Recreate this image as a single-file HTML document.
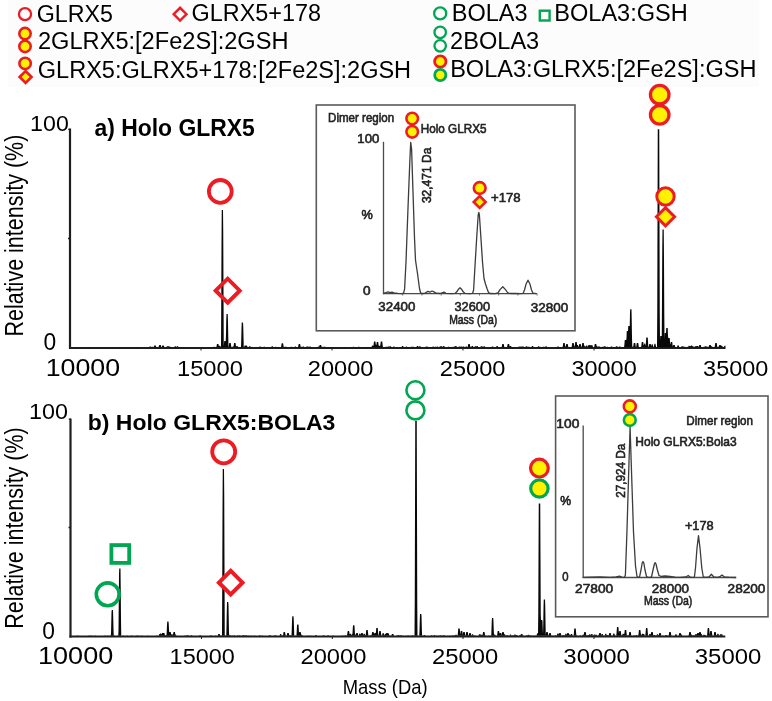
<!DOCTYPE html><html><head><meta charset="utf-8"><style>html,body{margin:0;padding:0;background:#fff;}svg{display:block;}text{font-family:"Liberation Sans",Arial,sans-serif;}</style></head><body>
<svg width="772" height="701" viewBox="0 0 772 701">
<rect width="772" height="701" fill="#fff"/>
<rect x="8" y="0" width="751" height="87" fill="#fcfcfc"/>
<circle cx="25.0" cy="14.1" r="6.05" fill="none" stroke="#ec1c24" stroke-width="2.3"/>
<text x="36.73" y="22.2" font-size="23.5" textLength="76.25" lengthAdjust="spacingAndGlyphs">GLRX5</text>
<path d="M173.70 14.20L180.10 7.80L186.50 14.20L180.10 20.60Z" fill="none" stroke="#ec1c24" stroke-width="2.4" stroke-linejoin="miter"/>
<text x="191.62" y="20.8" font-size="23.5" textLength="129.39" lengthAdjust="spacingAndGlyphs">GLRX5+178</text>
<circle cx="25.0" cy="33.6" r="5.70" fill="#fff200" stroke="#ec1c24" stroke-width="2.6"/>
<circle cx="25.0" cy="46.4" r="5.70" fill="#fff200" stroke="#ec1c24" stroke-width="2.6"/>
<text x="38.01" y="48.9" font-size="23.5" textLength="250.51" lengthAdjust="spacingAndGlyphs">2GLRX5:[2Fe2S]:2GSH</text>
<circle cx="25.1" cy="63.4" r="5.70" fill="#fff200" stroke="#ec1c24" stroke-width="2.6"/>
<path d="M19.64 77.00L25.60 71.04L31.56 77.00L25.60 82.96Z" fill="#fff200" stroke="#ec1c24" stroke-width="2.6" stroke-linejoin="miter"/>
<text x="37.82" y="77.7" font-size="23.5" textLength="373.3" lengthAdjust="spacingAndGlyphs">GLRX5:GLRX5+178:[2Fe2S]:2GSH</text>
<circle cx="440.2" cy="13.4" r="6.05" fill="none" stroke="#00a651" stroke-width="2.3"/>
<text x="451.77" y="21.4" font-size="23.5" textLength="75.76" lengthAdjust="spacingAndGlyphs">BOLA3</text>
<rect x="539.80" y="10.70" width="9.80" height="9.80" fill="none" stroke="#00a651" stroke-width="2.4"/>
<text x="554.27" y="21.3" font-size="23.5" textLength="133.55" lengthAdjust="spacingAndGlyphs">BOLA3:GSH</text>
<circle cx="440.2" cy="32.3" r="5.75" fill="none" stroke="#00a651" stroke-width="2.3"/>
<circle cx="440.2" cy="45.8" r="5.75" fill="none" stroke="#00a651" stroke-width="2.3"/>
<text x="450.11" y="48.9" font-size="23.5" textLength="89.12" lengthAdjust="spacingAndGlyphs">2BOLA3</text>
<circle cx="440.3" cy="61.5" r="5.70" fill="#fff200" stroke="#ec1c24" stroke-width="2.8"/>
<circle cx="440.3" cy="75.0" r="5.60" fill="#fff200" stroke="#00a651" stroke-width="2.8"/>
<text x="450.17" y="76.7" font-size="23.5" textLength="306.35" lengthAdjust="spacingAndGlyphs">BOLA3:GLRX5:[2Fe2S]:GSH</text>
<line x1="70" y1="128.5" x2="70" y2="349" stroke="#1e1e1e" stroke-width="2.2"/>
<line x1="69" y1="348" x2="725.5" y2="348" stroke="#1e1e1e" stroke-width="2.2"/>
<line x1="201" y1="348" x2="201" y2="350.5" stroke="#1e1e1e" stroke-width="1"/>
<line x1="332" y1="348" x2="332" y2="350.5" stroke="#1e1e1e" stroke-width="1"/>
<line x1="463" y1="348" x2="463" y2="350.5" stroke="#1e1e1e" stroke-width="1"/>
<line x1="594" y1="348" x2="594" y2="350.5" stroke="#1e1e1e" stroke-width="1"/>
<line x1="68" y1="238.6" x2="70" y2="238.6" stroke="#1e1e1e" stroke-width="1.5"/>
<line x1="68.2" y1="129.3" x2="70" y2="129.3" stroke="#1e1e1e" stroke-width="1.2"/>
<text x="30.13" y="130.5" font-size="22" textLength="38.67" lengthAdjust="spacingAndGlyphs">100</text>
<text x="43.41" y="350.0" font-size="23" textLength="12.68" lengthAdjust="spacingAndGlyphs">0</text>
<text x="45.66" y="376.3" font-size="24" textLength="74.38" lengthAdjust="spacingAndGlyphs">10000</text>
<text x="176.99" y="376.4" font-size="22.8" textLength="65.93" lengthAdjust="spacingAndGlyphs">15000</text>
<text x="307.81" y="376.4" font-size="22.8" textLength="65.61" lengthAdjust="spacingAndGlyphs">20000</text>
<text x="439.81" y="376.4" font-size="22.8" textLength="65.61" lengthAdjust="spacingAndGlyphs">25000</text>
<text x="571.41" y="376.4" font-size="22.8" textLength="65.31" lengthAdjust="spacingAndGlyphs">30000</text>
<text x="703.11" y="376.4" font-size="22.8" textLength="65.21" lengthAdjust="spacingAndGlyphs">35000</text>
<text x="23.4" y="336.56" font-size="25" textLength="201.9" lengthAdjust="spacingAndGlyphs" transform="rotate(-90 23.4 336.56)">Relative intensity (%)</text>
<text x="94.43" y="135.6" font-size="23" font-weight="bold" textLength="160.41" lengthAdjust="spacingAndGlyphs">a) Holo GLRX5</text>
<polygon points="70.50,347.30 70.50,347.28 70.75,347.28 71.00,347.27 71.25,347.23 71.50,347.19 72.50,347.19 72.75,347.23 73.00,347.27 73.25,347.30 73.50,347.30 73.75,347.29 74.00,347.29 74.25,347.28 74.50,347.28 74.75,347.21 75.00,347.13 75.25,347.09 76.00,347.09 76.25,347.12 76.50,347.20 76.75,347.27 77.00,347.29 78.00,347.29 78.25,347.30 78.50,347.27 78.75,347.24 79.00,347.22 79.75,347.22 80.00,347.23 80.25,347.26 80.50,347.29 80.75,347.30 81.00,347.29 81.25,347.28 81.50,347.27 82.50,347.27 82.75,347.28 83.00,347.29 83.25,347.30 83.50,347.28 83.75,347.26 84.00,347.23 85.00,347.23 85.25,347.26 85.50,347.28 85.75,347.22 86.00,347.17 86.25,347.15 86.75,347.15 87.00,347.11 88.00,347.11 88.25,347.17 88.50,347.10 88.75,347.07 89.50,347.07 89.75,347.12 90.00,347.20 90.25,347.28 90.50,347.29 90.75,347.29 91.00,347.25 91.25,347.20 91.50,347.18 92.25,347.18 92.50,347.20 92.75,347.24 93.00,347.26 94.00,347.26 94.25,347.28 94.50,347.28 94.75,347.25 95.00,347.21 95.25,347.20 96.00,347.20 96.25,347.21 96.50,347.12 96.75,347.04 97.50,347.04 97.75,347.06 98.00,347.15 98.25,347.16 99.00,347.16 99.25,347.21 99.50,347.26 99.75,347.30 100.00,347.27 100.25,347.17 100.50,347.07 100.75,347.02 101.50,347.02 101.75,347.08 102.00,347.15 102.50,347.15 102.75,347.20 103.00,347.26 103.25,347.22 103.50,347.20 104.25,347.20 104.50,347.22 104.75,347.21 105.00,347.13 105.25,347.08 106.00,347.08 106.25,347.11 106.50,347.11 106.75,347.13 107.00,347.20 107.25,347.27 108.00,347.27 108.25,347.28 108.50,347.29 108.75,347.30 109.00,347.29 109.25,347.24 109.50,347.18 109.75,347.15 110.50,347.15 110.75,347.17 111.00,347.22 111.25,347.20 111.50,347.10 111.75,347.01 112.50,347.01 112.75,347.03 113.00,347.13 113.25,347.23 113.50,347.27 114.25,347.27 114.50,347.28 114.75,347.29 115.00,347.30 115.50,347.30 115.75,347.29 116.00,347.25 116.25,347.21 116.50,347.19 117.00,347.19 117.25,347.18 117.50,347.10 117.75,347.07 118.50,347.07 118.75,347.13 119.00,347.21 119.25,347.18 119.50,347.09 119.75,347.06 120.50,347.06 120.75,347.11 121.00,347.20 121.25,347.23 121.50,347.22 122.25,347.22 122.50,347.24 122.75,347.23 123.00,347.21 123.75,347.21 124.00,347.22 124.25,347.25 124.50,347.24 124.75,347.22 125.50,347.22 125.75,347.23 126.00,347.26 126.25,347.28 127.25,347.28 127.50,347.29 127.75,347.30 128.00,347.27 128.25,347.24 128.50,347.22 129.50,347.22 129.75,347.25 130.00,347.25 130.25,347.24 130.50,347.20 130.75,347.19 131.25,347.19 131.50,347.18 132.25,347.18 132.50,347.19 132.75,347.23 133.00,347.27 133.25,347.27 133.50,347.26 134.25,347.26 134.50,347.27 134.75,347.28 135.00,347.30 135.50,347.30 135.75,347.26 136.00,347.16 136.25,347.06 136.50,347.02 137.25,347.02 137.50,347.08 137.75,347.18 138.00,347.19 138.75,347.19 139.00,347.21 139.25,347.25 139.50,347.27 140.25,347.27 140.50,347.28 140.75,347.28 141.00,347.27 141.75,347.27 142.00,347.28 142.25,347.29 142.50,347.30 143.50,347.30 143.75,347.29 144.00,347.28 144.25,347.27 145.25,347.27 145.50,347.28 145.75,347.29 146.00,347.28 146.75,347.28 147.00,347.23 147.25,347.18 147.50,347.15 148.25,347.15 148.50,347.18 148.75,347.24 149.00,347.26 149.25,346.95 149.50,346.63 149.75,346.42 150.50,346.42 150.75,346.52 151.00,346.84 151.25,347.13 151.50,346.95 151.75,346.79 152.50,346.79 152.75,346.81 153.00,346.99 153.25,347.18 153.50,347.25 153.75,347.00 154.00,346.25 154.25,345.50 155.75,345.50 156.00,346.25 156.25,347.00 156.50,347.26 157.00,347.26 157.25,347.28 157.50,347.29 157.75,347.17 158.00,347.00 158.25,346.82 158.50,346.81 158.75,346.81 159.00,345.96 159.25,345.00 160.75,345.00 161.00,345.96 161.25,346.92 161.50,347.21 161.75,347.00 162.00,346.25 162.25,345.50 163.75,345.50 164.00,346.25 164.25,347.00 164.50,347.27 165.00,347.27 165.25,347.28 165.50,347.29 165.75,347.30 166.00,347.30 166.25,347.19 166.50,346.86 166.75,346.53 167.00,346.37 167.75,346.37 168.00,346.54 168.25,346.22 169.25,346.22 169.50,346.61 169.75,346.63 170.25,346.63 170.50,346.75 170.75,346.98 171.50,346.98 171.75,347.10 172.00,347.21 172.25,347.24 172.50,347.24 172.75,347.25 173.00,347.27 173.25,347.29 173.50,347.26 173.75,347.23 174.00,347.20 174.25,347.19 174.50,346.84 174.75,346.49 175.00,346.32 175.75,346.32 176.00,346.50 176.25,346.85 176.50,347.03 176.75,346.68 177.00,346.34 178.00,346.34 178.25,346.68 178.50,347.02 178.75,347.30 179.00,347.27 179.25,347.23 179.50,347.19 180.50,347.19 180.75,347.23 181.00,347.27 181.25,347.30 209.50,347.30 209.75,347.29 210.00,347.16 210.25,347.03 210.50,346.92 211.25,346.92 211.50,346.96 211.75,347.04 212.25,347.04 212.50,347.09 212.75,347.18 213.00,347.28 213.25,347.16 213.50,346.98 213.75,346.80 214.75,346.80 215.00,346.97 215.25,347.15 215.50,347.21 215.75,347.21 216.00,347.23 216.25,347.26 216.50,346.47 216.75,345.10 217.00,344.00 218.25,344.00 218.50,344.28 218.75,345.65 219.00,345.87 219.75,345.87 220.00,346.10 220.25,346.43 220.75,346.43 221.00,346.51 221.25,301.57 221.50,244.40 221.75,210.10 223.00,210.10 223.25,232.97 223.50,290.13 223.75,346.25 224.00,343.62 224.25,341.00 225.75,341.00 226.00,333.42 226.25,319.55 226.50,314.00 227.75,314.00 228.00,322.33 228.25,336.20 228.50,347.08 228.75,346.58 229.00,344.79 229.25,343.00 230.75,343.00 231.00,344.79 231.25,346.58 231.50,347.08 231.75,347.22 232.00,347.18 232.25,346.94 232.50,346.70 232.75,346.62 233.50,346.62 233.75,345.15 234.00,343.36 234.25,343.00 235.50,343.00 235.75,344.43 236.00,346.22 236.25,346.50 236.50,346.13 236.75,345.89 237.50,345.89 237.75,346.15 238.00,346.65 238.25,346.99 238.75,346.99 239.00,347.03 239.25,347.14 239.50,347.09 239.75,346.95 240.00,346.91 240.75,346.91 241.00,347.01 241.25,339.03 241.50,328.70 241.75,322.50 243.00,322.50 243.25,326.63 243.50,336.97 243.75,347.29 244.00,347.18 244.25,346.57 244.50,345.97 244.75,345.60 245.50,345.60 245.75,345.84 246.00,345.53 246.75,345.53 247.00,345.83 247.25,346.46 247.50,346.84 247.75,347.01 248.00,347.18 248.25,347.30 248.50,347.10 248.75,346.75 249.00,346.41 249.25,346.34 250.00,346.34 250.25,346.61 250.50,346.85 251.00,346.85 251.25,346.86 251.50,347.02 251.75,347.18 252.00,347.29 252.50,347.29 252.75,347.28 254.00,347.28 254.25,347.29 254.50,347.29 254.75,347.28 255.00,347.27 256.00,347.27 256.25,347.28 256.50,347.29 256.75,347.30 257.00,347.30 257.25,347.29 258.75,347.29 259.00,347.06 259.25,346.81 259.50,346.60 260.25,346.60 260.50,346.64 260.75,346.66 261.00,346.66 261.25,346.78 261.50,347.00 261.75,347.23 262.00,347.25 262.25,347.16 262.50,347.06 262.75,347.04 263.50,347.04 263.75,346.86 264.00,346.74 264.75,346.74 265.00,346.82 265.25,347.02 265.50,347.19 265.75,347.22 266.00,347.24 267.00,347.24 267.25,347.25 267.50,347.11 267.75,346.98 268.00,346.92 268.75,346.92 269.00,347.00 269.25,347.13 269.50,347.16 269.75,347.16 270.00,347.13 270.75,347.13 271.00,347.14 271.25,347.04 271.50,346.70 271.75,346.36 272.00,346.35 272.75,346.35 273.00,346.68 273.25,347.02 273.50,347.28 273.75,347.28 274.00,347.27 274.50,347.27 274.75,347.25 275.00,347.08 275.25,346.92 275.50,346.85 276.25,346.85 276.50,346.93 276.75,347.10 277.00,347.02 277.25,346.89 278.00,346.89 278.25,346.90 278.50,347.05 278.75,347.19 279.00,347.29 279.25,347.26 279.50,347.16 279.75,347.07 280.00,347.03 280.75,347.03 281.00,347.09 281.25,345.97 281.50,344.30 281.75,343.30 283.00,343.30 283.25,343.97 283.50,345.63 283.75,347.02 284.00,347.14 284.25,346.99 284.50,346.82 285.00,346.82 285.25,346.81 285.50,346.80 286.25,346.80 286.50,346.97 286.75,347.06 287.00,346.96 287.75,346.96 288.00,346.97 288.25,347.10 288.50,347.22 288.75,347.30 289.00,347.30 289.25,347.29 289.50,347.28 289.75,347.27 290.00,347.27 290.25,347.14 290.50,346.93 290.75,346.71 291.00,346.70 291.75,346.70 292.00,346.90 292.25,347.12 292.50,347.30 292.75,347.22 293.00,347.14 293.25,347.07 294.00,347.07 294.25,347.08 294.50,347.00 294.75,346.75 295.00,346.60 295.75,346.60 296.00,346.70 296.25,346.95 296.50,347.07 297.25,347.07 297.50,347.12 297.75,347.20 298.00,347.19 298.25,346.20 298.50,344.82 298.75,344.00 300.00,344.00 300.25,344.55 300.50,345.93 300.75,347.10 301.00,347.05 301.25,346.87 301.50,346.78 302.25,346.78 302.50,346.88 302.75,346.72 303.00,346.57 303.75,346.57 304.00,346.69 304.25,346.95 304.50,347.21 304.75,347.23 305.00,347.23 305.25,347.25 305.50,347.28 305.75,347.29 306.00,347.03 306.25,346.76 306.50,346.56 307.00,346.56 307.25,346.55 308.00,346.55 308.25,346.70 308.50,346.77 309.25,346.77 309.50,346.71 309.75,346.60 310.50,346.60 310.75,346.75 311.00,347.00 311.25,347.01 311.50,346.96 312.25,346.96 312.50,347.04 312.75,347.16 313.00,347.19 313.25,347.21 313.50,347.25 313.75,347.26 314.75,347.26 315.00,347.27 315.25,347.24 315.50,347.18 315.75,347.15 316.50,347.15 316.75,347.17 317.00,347.22 317.50,347.22 317.75,347.08 318.00,346.80 318.25,346.52 318.50,346.51 318.75,346.50 319.00,346.41 319.25,346.41 319.50,345.57 319.75,345.00 321.00,345.00 321.25,345.38 321.50,346.34 321.75,346.92 322.00,347.12 322.25,347.15 322.50,346.99 322.75,346.87 323.50,346.87 323.75,346.90 324.00,346.83 324.25,346.73 325.00,346.73 325.25,346.84 325.50,347.01 325.75,347.01 326.00,347.03 326.25,347.14 326.50,347.24 326.75,347.23 327.00,347.18 327.75,347.18 328.00,347.07 328.25,346.98 329.00,346.98 329.25,347.01 329.50,347.09 329.75,347.02 330.50,347.02 330.75,347.05 331.00,347.15 331.25,347.11 331.50,347.00 332.50,347.00 332.75,347.10 333.00,347.21 333.25,347.29 334.75,347.29 335.00,347.26 335.25,347.17 335.50,347.08 335.75,347.05 336.50,347.05 336.75,347.10 337.00,347.15 338.00,347.15 338.25,347.21 338.50,347.26 338.75,347.30 339.50,347.30 339.75,347.27 340.00,347.20 340.25,347.13 340.50,347.09 341.25,347.09 341.50,347.13 341.75,347.21 342.00,347.25 342.25,347.25 342.50,347.26 342.75,347.28 343.00,347.30 343.75,347.30 344.00,347.15 344.25,347.01 344.50,346.89 345.25,346.89 345.50,346.91 345.75,347.06 346.00,347.19 347.00,347.19 347.25,347.23 347.50,347.27 347.75,347.25 348.00,347.22 348.25,347.21 349.00,347.21 349.25,347.24 349.50,347.25 349.75,347.12 350.00,346.97 350.25,346.88 351.00,346.88 351.25,346.93 351.50,347.08 351.75,347.24 352.00,347.27 352.25,347.28 352.50,347.24 352.75,347.07 353.00,346.90 353.25,346.83 354.00,346.83 354.25,346.93 354.50,347.10 354.75,347.26 355.00,347.28 355.25,347.23 355.50,347.16 355.75,347.11 356.50,347.11 356.75,347.12 357.00,347.19 357.25,347.26 357.50,347.26 357.75,347.18 358.00,347.02 358.25,346.86 358.50,346.85 359.25,346.85 359.50,347.00 359.75,347.16 360.00,347.20 360.75,347.20 361.00,347.22 361.25,347.25 361.50,347.17 361.75,347.07 362.00,347.02 362.75,347.02 363.00,347.07 363.25,347.17 363.50,347.24 364.25,347.24 364.50,347.16 364.75,347.07 365.00,347.05 365.25,347.05 365.50,347.03 365.75,346.88 366.50,346.88 366.75,346.89 367.00,347.04 367.25,347.11 367.75,347.11 368.00,347.10 368.75,347.10 369.00,347.16 369.25,347.20 369.50,347.10 369.75,347.01 370.50,347.01 370.75,347.02 371.00,347.13 371.25,347.09 371.50,346.86 371.75,346.42 372.00,345.75 372.25,345.42 373.00,345.42 373.25,345.76 373.50,345.82 373.75,343.37 374.00,341.40 375.25,341.40 375.50,341.89 375.75,344.35 376.00,345.03 376.25,345.03 376.50,344.21 376.75,342.00 378.25,342.00 378.50,344.21 378.75,345.77 379.00,345.76 379.75,345.76 380.00,346.15 380.25,345.45 380.50,343.86 380.75,341.40 382.25,341.40 382.50,343.86 382.75,346.32 383.00,346.75 383.25,346.95 383.50,347.16 383.75,347.25 384.75,347.25 385.00,347.15 385.25,346.92 385.50,346.70 385.75,346.66 386.50,346.66 386.75,346.75 387.50,346.75 387.75,346.77 388.00,346.86 388.25,346.59 388.50,346.55 389.25,346.55 389.50,346.67 389.75,346.30 390.00,346.25 390.75,346.25 391.00,346.57 391.25,346.95 391.50,347.12 391.75,347.12 392.00,347.13 392.25,347.20 392.50,347.23 392.75,347.22 393.00,346.94 393.25,346.65 393.50,346.50 394.25,346.50 394.50,346.64 394.75,346.92 395.00,347.21 395.25,347.25 395.50,347.25 395.75,347.17 396.00,347.10 396.25,347.09 397.00,347.09 397.25,347.15 397.50,347.23 397.75,347.28 398.00,347.28 398.25,347.29 398.50,347.29 398.75,347.30 399.75,347.30 400.00,347.25 400.25,347.17 400.50,347.10 400.75,347.08 401.50,347.08 401.75,346.75 402.00,346.31 402.25,346.09 403.00,346.09 403.25,346.30 403.50,346.73 403.75,347.01 404.00,347.01 404.25,347.04 404.50,347.15 404.75,347.14 405.25,347.14 405.50,347.06 405.75,346.81 406.00,346.61 406.75,346.61 407.00,346.66 407.25,346.90 407.50,347.15 407.75,347.28 408.00,347.18 408.25,347.08 408.50,347.02 409.25,347.02 409.50,347.06 409.75,347.16 410.00,347.22 410.25,347.24 410.50,347.10 410.75,346.92 411.00,346.79 411.75,346.79 412.00,346.84 412.25,347.02 412.50,346.82 412.75,346.69 413.50,346.69 413.75,346.78 414.00,347.00 414.25,347.22 414.50,347.26 415.25,347.26 415.50,347.27 415.75,347.19 416.00,346.99 416.25,346.79 416.50,346.74 416.75,346.67 417.00,346.23 417.25,346.07 418.00,346.07 418.25,346.35 418.50,346.79 418.75,347.16 419.00,346.76 419.25,346.37 419.50,346.21 420.25,346.21 420.50,346.43 420.75,346.82 421.00,347.18 421.25,347.21 421.50,347.26 421.75,347.29 423.50,347.29 423.75,347.28 424.50,347.28 424.75,347.29 425.00,347.14 425.25,346.92 425.50,346.71 425.75,346.70 426.25,346.70 426.50,346.59 427.25,346.59 427.50,346.60 427.75,346.85 428.00,347.11 428.25,347.05 428.50,346.91 428.75,346.90 429.50,346.90 429.75,347.04 430.00,347.08 430.25,347.10 430.50,347.18 430.75,347.11 431.00,347.00 432.00,347.00 432.25,346.88 432.50,346.63 432.75,346.62 433.50,346.62 433.75,346.86 434.00,347.10 434.25,347.11 434.50,346.92 434.75,346.68 435.00,346.64 435.75,346.64 436.00,346.84 436.25,347.07 436.50,346.99 436.75,346.73 437.00,346.55 437.75,346.55 438.00,346.64 438.25,346.91 438.50,347.18 438.75,347.23 439.00,347.23 439.25,347.15 439.50,346.80 439.75,346.44 440.00,346.30 440.75,346.30 441.00,346.49 441.25,346.25 442.00,346.25 442.25,346.39 442.50,346.76 442.75,346.98 443.00,346.56 443.25,346.14 443.50,346.11 444.25,346.11 444.50,346.51 444.75,346.94 445.00,347.28 445.75,347.28 446.00,347.27 446.25,347.24 446.50,347.22 447.25,347.22 447.50,347.23 447.75,347.04 448.00,346.85 448.25,346.76 449.00,346.76 449.25,346.86 449.50,347.06 449.75,347.14 450.00,346.99 450.25,346.89 451.00,346.89 451.25,346.93 451.50,347.08 451.75,347.22 452.00,347.05 452.25,346.88 452.50,346.83 453.25,346.83 453.50,346.94 453.75,347.07 454.00,346.75 454.25,346.44 454.50,346.41 455.00,346.41 455.25,346.31 455.50,346.09 456.25,346.09 456.50,346.29 456.75,346.73 457.00,347.16 457.25,347.29 458.00,347.29 458.25,347.25 458.50,346.93 458.75,346.61 459.00,346.41 459.75,346.41 460.00,346.52 460.25,346.84 460.50,346.88 460.75,346.61 461.00,346.55 461.75,346.55 462.00,346.75 462.25,346.83 462.50,346.83 462.75,346.70 463.00,346.39 463.75,346.39 464.00,346.41 464.25,346.73 464.50,347.05 464.75,347.24 465.00,347.24 465.25,347.10 465.50,346.86 465.75,346.61 466.75,346.61 467.00,346.86 467.25,346.99 467.50,346.99 467.75,346.75 468.00,345.38 468.25,344.00 469.75,344.00 470.00,345.38 470.25,346.75 470.50,346.82 471.25,346.82 471.50,346.76 471.75,346.30 472.00,346.01 472.75,346.01 473.00,346.18 473.25,346.64 473.50,347.10 473.75,347.29 474.00,347.29 474.25,347.21 474.50,346.81 474.75,346.41 475.00,346.17 475.75,346.17 476.00,346.34 476.25,346.75 476.50,346.31 476.75,346.03 477.50,346.03 477.75,346.21 478.00,346.66 478.25,347.00 478.50,346.93 479.25,346.93 479.50,346.98 479.75,347.12 480.00,347.25 480.25,347.18 480.50,346.80 480.75,346.42 481.00,346.24 481.75,346.24 482.00,346.43 482.25,346.52 482.75,346.52 483.00,346.73 483.25,346.90 483.50,346.51 483.75,346.20 484.50,346.20 484.75,346.28 485.00,346.68 485.25,347.07 485.50,347.26 486.50,347.26 486.75,347.28 487.00,347.28 487.25,347.24 487.50,347.20 487.75,347.19 488.50,347.19 488.75,347.21 489.00,347.26 489.25,347.30 489.50,347.30 489.75,347.25 490.00,347.17 490.25,347.08 490.50,347.06 491.25,347.06 491.50,347.10 491.75,346.84 492.00,346.58 492.25,346.57 493.00,346.57 493.25,346.83 493.50,347.09 493.75,347.18 494.00,347.18 494.25,347.19 494.50,347.23 494.75,347.27 495.75,347.27 496.00,347.08 496.25,346.64 496.50,346.20 496.75,346.06 497.50,346.06 497.75,346.36 498.00,346.81 498.25,347.12 498.50,347.12 498.75,347.15 499.00,347.15 499.25,347.05 499.50,347.02 500.25,347.02 500.50,347.10 500.75,347.20 501.00,347.18 501.25,347.13 501.50,347.13 501.75,346.75 502.00,345.38 502.25,344.00 503.75,344.00 504.00,345.38 504.25,346.75 504.50,347.19 504.75,347.20 505.00,347.24 505.25,347.28 505.50,347.30 506.00,347.30 506.25,347.29 506.50,347.15 506.75,347.02 507.00,346.93 507.25,346.20 507.50,344.82 507.75,344.00 509.00,344.00 509.25,344.55 509.50,345.93 509.75,346.61 510.00,346.16 510.25,346.05 511.00,346.05 511.25,346.39 511.50,346.84 511.75,347.28 512.00,347.27 512.25,347.18 512.50,347.09 512.75,347.06 513.00,347.06 513.25,347.00 513.50,346.91 514.25,346.91 514.50,346.96 514.75,347.10 515.00,347.24 515.25,347.24 515.50,347.22 516.00,347.22 516.25,347.21 517.00,347.21 517.25,347.23 517.50,347.26 517.75,347.08 518.00,346.90 518.25,346.79 519.00,346.79 519.25,346.86 519.50,346.62 519.75,346.45 520.50,346.45 520.75,346.59 521.00,346.89 521.25,346.62 521.50,346.55 522.25,346.55 522.50,346.51 522.75,346.40 523.50,346.40 523.75,346.61 524.00,346.93 524.25,347.25 524.50,347.27 524.75,347.29 525.00,347.30 525.25,347.17 525.50,346.80 525.75,346.42 526.00,346.25 526.75,346.25 527.00,346.46 527.25,346.81 527.50,346.72 528.25,346.72 528.50,346.84 528.75,346.83 529.50,346.83 529.75,346.89 530.00,347.06 530.25,347.23 530.50,347.26 530.75,347.26 531.00,347.27 531.25,347.28 531.50,346.91 531.75,346.46 532.00,346.02 532.75,346.02 533.00,346.04 533.25,346.50 533.50,346.96 533.75,347.14 534.25,347.14 534.50,347.18 534.75,347.24 535.00,347.27 535.25,347.17 535.50,347.08 535.75,347.03 536.50,347.03 536.75,347.09 537.00,347.17 537.25,347.17 537.50,347.09 537.75,346.76 538.00,346.42 538.25,346.36 539.00,346.36 539.25,346.63 539.50,346.81 540.00,346.81 540.25,346.86 540.50,347.03 540.75,347.17 541.00,347.03 541.25,346.91 542.00,346.91 542.25,346.93 542.50,347.04 542.75,346.80 543.00,346.65 543.75,346.65 544.00,346.72 544.25,346.72 544.50,346.74 544.75,346.94 545.00,347.13 545.25,346.75 545.50,346.38 545.75,346.26 546.50,346.26 546.75,346.51 547.00,346.88 547.25,347.25 547.75,347.25 548.00,347.18 548.25,347.12 548.50,347.11 549.25,347.11 549.50,347.17 549.75,347.20 550.50,347.20 550.75,347.21 551.00,347.19 551.25,347.17 552.00,347.17 552.25,347.20 552.50,347.24 552.75,347.28 553.25,347.28 553.50,347.29 556.75,347.29 557.00,347.10 557.25,346.77 557.50,346.44 557.75,346.39 558.50,346.39 558.75,346.66 559.00,346.98 559.25,347.30 559.50,347.29 560.75,347.29 561.00,347.26 561.25,347.19 561.50,347.13 561.75,347.12 562.50,347.12 562.75,346.58 563.00,344.79 563.25,343.00 564.75,343.00 565.00,344.79 565.25,346.58 565.50,346.67 565.75,346.27 566.00,345.38 566.25,344.00 567.75,344.00 568.00,345.38 568.25,346.75 568.50,347.21 569.25,347.21 569.50,347.23 569.75,347.27 570.00,347.30 570.25,347.29 570.50,347.20 570.75,347.07 571.00,346.94 571.25,346.93 571.50,346.93 571.75,346.58 572.00,344.79 572.25,343.00 573.75,343.00 574.00,344.79 574.25,346.58 574.50,346.24 574.75,345.49 575.00,344.21 575.25,342.00 576.75,342.00 577.00,344.21 577.25,345.09 577.75,345.09 578.00,345.23 578.25,346.02 578.50,346.80 578.75,346.75 579.00,345.38 579.25,344.00 580.75,344.00 581.00,345.38 581.25,346.71 581.50,346.71 581.75,346.58 582.00,344.79 582.25,343.00 583.75,343.00 584.00,344.79 584.25,345.77 584.50,345.77 584.75,346.27 585.00,346.58 585.50,346.58 585.75,346.56 586.00,345.94 586.25,345.57 587.00,345.57 587.25,345.81 587.50,346.43 587.75,347.05 588.00,346.35 588.25,345.57 588.50,345.12 589.25,345.12 589.50,345.19 589.75,344.98 590.50,344.98 590.75,345.59 591.00,346.12 591.25,345.27 591.50,344.91 592.25,344.91 592.50,345.40 592.75,346.26 593.00,347.11 593.25,347.27 593.75,347.27 594.00,347.28 594.25,346.75 594.50,345.38 594.75,344.00 596.25,344.00 596.50,345.38 596.75,345.88 597.00,346.44 597.25,346.61 597.75,346.61 598.00,346.57 598.75,346.57 599.00,346.40 599.75,346.40 600.00,346.48 600.25,346.80 600.50,347.13 600.75,347.13 601.00,347.18 601.25,347.23 601.50,347.08 601.75,346.92 602.00,346.87 602.75,346.87 603.00,346.97 603.25,346.89 603.50,346.57 603.75,346.41 604.00,346.41 604.25,346.32 604.50,346.16 605.25,346.16 605.50,346.40 605.75,346.81 606.00,347.00 606.50,347.00 606.75,346.86 607.00,346.80 607.75,346.80 608.00,346.92 608.25,347.10 608.50,347.23 608.75,347.14 609.00,347.05 609.75,347.05 610.00,347.06 610.25,347.15 610.50,347.08 610.75,346.75 611.00,346.42 611.25,346.38 612.00,346.38 612.25,346.67 612.50,347.00 612.75,347.07 613.00,347.07 613.25,347.09 613.50,347.08 614.25,347.08 614.50,347.09 614.75,347.16 615.00,347.24 615.25,347.30 615.50,347.25 615.75,346.84 616.00,346.42 616.25,346.14 617.00,346.14 617.25,346.28 617.50,346.69 617.75,347.02 618.00,346.94 618.50,346.94 618.75,346.93 619.00,346.60 619.25,346.40 620.00,346.40 620.25,346.51 620.50,346.84 620.75,347.16 621.00,347.19 621.25,347.19 621.50,347.22 621.75,347.16 622.00,347.13 622.75,347.13 623.00,347.03 623.25,346.89 624.00,346.89 624.25,346.08 624.50,343.04 624.75,340.00 626.25,340.00 626.50,337.79 626.75,331.00 628.00,331.00 628.25,326.00 629.75,326.00 630.00,312.37 630.25,309.20 631.50,309.20 631.75,321.90 632.00,337.78 632.25,345.85 632.50,346.52 632.75,347.18 633.00,347.00 633.25,346.58 633.50,344.79 633.75,343.00 635.25,343.00 635.50,344.79 635.75,346.58 636.00,347.00 636.25,346.58 636.50,344.79 636.75,343.00 638.25,343.00 638.50,344.79 638.75,346.58 639.00,347.09 639.25,347.25 639.50,347.20 639.75,347.17 640.50,347.17 640.75,347.00 641.00,346.63 641.25,346.25 641.50,344.21 641.75,342.00 643.25,342.00 643.50,344.21 643.75,345.56 644.00,344.75 644.25,343.47 645.00,343.47 645.25,343.55 645.50,344.92 645.75,345.67 646.00,341.58 646.25,337.50 647.75,337.50 648.00,341.58 648.25,345.67 648.50,347.09 648.75,346.75 649.00,345.38 649.25,344.00 650.75,344.00 651.00,345.38 651.25,346.23 651.50,345.11 651.75,344.17 652.50,344.17 652.75,344.35 653.00,345.47 653.25,346.59 653.50,347.27 653.75,347.27 654.00,346.05 654.25,344.80 654.50,343.80 655.25,343.80 655.50,344.05 655.75,345.30 656.00,346.55 656.25,347.27 656.75,347.27 657.00,346.49 657.25,310.97 657.50,220.13 657.75,129.30 659.25,129.30 659.50,220.13 659.75,310.97 660.00,340.71 660.25,336.00 661.75,336.00 662.00,298.18 662.25,249.05 662.50,229.40 663.75,229.40 664.00,258.87 664.25,308.00 664.50,338.96 664.75,333.00 666.00,333.00 666.25,328.00 667.75,328.00 668.00,336.04 668.25,338.00 669.75,338.00 670.00,341.88 670.25,344.59 670.50,343.96 670.75,342.00 672.25,342.00 672.50,344.21 672.75,346.42 673.00,345.96 673.25,345.00 674.75,345.00 675.00,345.96 675.25,346.92 675.50,347.29 675.75,347.26 676.00,347.22 676.25,347.17 676.75,347.17 677.00,347.02 677.25,346.33 677.50,345.65 677.75,345.37 678.50,345.37 678.75,345.79 679.00,346.48 679.25,347.11 679.75,347.11 680.00,347.16 680.25,347.19 680.50,347.19 680.75,347.16 681.00,346.87 681.25,346.58 681.50,346.49 682.00,346.49 682.25,346.34 682.50,346.28 683.25,346.28 683.50,346.60 683.75,346.94 684.00,346.71 684.25,346.66 685.00,346.66 685.25,346.83 685.50,347.06 685.75,347.29 686.50,347.29 686.75,347.21 687.00,347.06 687.25,346.91 687.50,346.87 688.00,346.87 688.25,346.75 688.50,346.23 688.75,345.85 689.50,345.85 689.75,345.98 690.00,346.46 690.25,346.10 690.75,346.10 691.00,345.65 691.25,345.52 692.00,345.52 692.25,346.02 692.50,346.37 693.00,346.37 693.25,346.59 693.50,346.76 693.75,346.69 694.50,346.69 694.75,346.83 695.00,346.90 695.25,346.44 695.50,346.00 696.25,346.00 696.50,346.02 696.75,346.43 697.00,345.96 697.75,345.96 698.00,345.97 698.25,346.45 698.50,346.93 698.75,346.79 699.00,345.96 699.25,345.00 700.75,345.00 701.00,345.96 701.25,346.92 701.50,347.18 701.75,347.14 702.50,347.14 702.75,347.15 703.00,347.21 703.25,347.09 703.50,346.90 703.75,346.77 704.25,346.77 704.50,346.74 704.75,346.38 705.00,346.29 705.75,346.29 706.00,346.57 706.25,346.49 706.50,346.47 707.25,346.47 707.50,346.75 707.75,346.89 708.25,346.89 708.50,346.66 708.75,346.42 709.00,345.96 709.25,345.00 710.75,345.00 711.00,345.96 711.25,346.35 712.00,346.35 712.25,346.68 712.50,347.02 712.75,347.23 713.50,347.23 713.75,347.24 714.00,347.27 714.25,347.28 714.50,347.28 714.75,346.58 715.00,344.79 715.25,343.00 716.75,343.00 717.00,344.79 717.25,346.58 717.50,347.28 718.00,347.28 718.25,347.19 718.50,346.70 718.75,346.22 719.00,345.94 719.25,345.00 720.75,345.00 721.00,345.96 721.25,345.70 722.00,345.70 722.25,345.81 722.50,346.38 722.75,346.95 723.00,347.17 723.25,347.02 723.50,346.89 723.75,346.89 724.00,346.79 724.25,346.19 724.50,345.63 725.25,345.63 725.50,345.67 725.50,347.30" fill="#080808"/>
<circle cx="220.3" cy="191.4" r="11.40" fill="none" stroke="#ec1c24" stroke-width="3.8"/>
<path d="M215.66 290.70L227.70 278.66L239.74 290.70L227.70 302.74Z" fill="none" stroke="#ec1c24" stroke-width="3.9" stroke-linejoin="miter"/>
<circle cx="659.7" cy="94.7" r="9.25" fill="#fff200" stroke="#ec1c24" stroke-width="3.3"/>
<circle cx="659.7" cy="114.8" r="9.25" fill="#fff200" stroke="#ec1c24" stroke-width="3.3"/>
<circle cx="665.5" cy="196.5" r="8.70" fill="#fff200" stroke="#ec1c24" stroke-width="3"/>
<path d="M656.42 216.80L665.50 207.72L674.58 216.80L665.50 225.88Z" fill="#fff200" stroke="#ec1c24" stroke-width="3" stroke-linejoin="miter"/>
<rect x="316.3" y="105" width="258.7" height="225.8" fill="#fff" stroke="#5a5a5a" stroke-width="1.6"/>
<line x1="383.5" y1="141.8" x2="383.5" y2="294.2" stroke="#4a4a4a" stroke-width="1.3"/>
<line x1="382.9" y1="293.6" x2="536.8" y2="293.6" stroke="#4a4a4a" stroke-width="1.3"/>
<line x1="402.7" y1="293.6" x2="402.7" y2="295.5" stroke="#4a4a4a" stroke-width="0.8"/>
<line x1="421.9" y1="293.6" x2="421.9" y2="295.5" stroke="#4a4a4a" stroke-width="0.8"/>
<line x1="441.1" y1="293.6" x2="441.1" y2="295.5" stroke="#4a4a4a" stroke-width="0.8"/>
<line x1="460.3" y1="293.6" x2="460.3" y2="295.5" stroke="#4a4a4a" stroke-width="0.8"/>
<line x1="479.5" y1="293.6" x2="479.5" y2="295.5" stroke="#4a4a4a" stroke-width="0.8"/>
<line x1="498.7" y1="293.6" x2="498.7" y2="295.5" stroke="#4a4a4a" stroke-width="0.8"/>
<line x1="517.9" y1="293.6" x2="517.9" y2="295.5" stroke="#4a4a4a" stroke-width="0.8"/>
<line x1="537.1" y1="293.6" x2="537.1" y2="295.5" stroke="#4a4a4a" stroke-width="0.8"/>
<polyline points="384,293.2 386,292.5 388,291.9 390,292.6 392,292.2 394,292.8 398,293.4 402,293.6 403.6,293.2 404.6,289 406,262 408,208 409.8,162 410.7,142.3 411.6,149 413,192 414.5,238 415.5,260 416.5,267 417.5,273.5 418.5,281 419.5,288.5 420.5,292.5 421.5,293.4 424,293.5 426,292.6 428,291.3 430,292.2 432,291 434,291.9 436,293.2 440,293.5 442,292.8 444,292.1 446,293.3 452,293.6 455,293.4 457,291.6 458.5,289.2 460,287.8 461.5,289.2 463,291.6 465,293.4 470,293.6 472.6,293.3 473.6,290 475,266 476.8,236 478.2,215 478.8,212.4 479.4,215 480.8,236 482.5,262 484,278.5 485.5,284 487,288.5 488.5,292.4 490,293.5 495,293.6 498,292.8 500,289.6 502.8,286.8 505.5,289.6 507.5,292.5 509,293.3 512,293.5 516,293.3 520,293.6 523,293.4 524.5,290 526,284.2 528,280.2 530,284.2 531.5,290 533,293.2 536.5,293.6" fill="none" stroke="#3c3c3c" stroke-width="1.3" stroke-linejoin="round"/>
<text x="328.05" y="122.2" font-size="12.5" textLength="66.1" lengthAdjust="spacingAndGlyphs" fill="#222" stroke="#222" stroke-width="0.6">Dimer region</text>
<text x="357.39" y="143.1" font-size="13" textLength="22.02" lengthAdjust="spacingAndGlyphs" fill="#222" stroke="#222" stroke-width="0.6">100</text>
<text x="361.45" y="219.2" font-size="12.5" textLength="11.31" lengthAdjust="spacingAndGlyphs" fill="#222" stroke="#222" stroke-width="0.6">%</text>
<text x="362.97" y="295.2" font-size="12.5" textLength="7.56" lengthAdjust="spacingAndGlyphs" fill="#222" stroke="#222" stroke-width="0.6">0</text>
<text x="378.39" y="310.6" font-size="13" textLength="36.92" lengthAdjust="spacingAndGlyphs" fill="#222" stroke="#222" stroke-width="0.6">32400</text>
<text x="454.51" y="310.6" font-size="13" textLength="35.59" lengthAdjust="spacingAndGlyphs" fill="#222" stroke="#222" stroke-width="0.6">32600</text>
<text x="530.89" y="311.5" font-size="13" textLength="37.44" lengthAdjust="spacingAndGlyphs" fill="#222" stroke="#222" stroke-width="0.6">32800</text>
<text x="449.14" y="324" font-size="12.5" textLength="48.1" lengthAdjust="spacingAndGlyphs" fill="#222" stroke="#222" stroke-width="0.6">Mass (Da)</text>
<text x="420.84" y="132.7" font-size="12.5" textLength="65.65" lengthAdjust="spacingAndGlyphs" fill="#222" stroke="#222" stroke-width="0.6">Holo GLRX5</text>
<text x="431" y="203.06" font-size="12.5" textLength="55.36" lengthAdjust="spacingAndGlyphs" transform="rotate(-90 431 203.06)" fill="#222" stroke="#222" stroke-width="0.6">32,471 Da</text>
<text x="490.96" y="201.6" font-size="13.7" textLength="29.72" lengthAdjust="spacingAndGlyphs" fill="#222" stroke="#222" stroke-width="0.6">+178</text>
<circle cx="412.2" cy="118.5" r="5.80" fill="#fff200" stroke="#ec1c24" stroke-width="2.6"/>
<circle cx="412.2" cy="131.8" r="5.80" fill="#fff200" stroke="#ec1c24" stroke-width="2.6"/>
<circle cx="479.7" cy="188.0" r="5.90" fill="#fff200" stroke="#ec1c24" stroke-width="2.6"/>
<path d="M473.74 202.00L479.70 196.04L485.66 202.00L479.70 207.96Z" fill="#fff200" stroke="#ec1c24" stroke-width="2.6" stroke-linejoin="miter"/>
<line x1="70.5" y1="418.5" x2="70.5" y2="637.6" stroke="#1e1e1e" stroke-width="2.2"/>
<line x1="69.5" y1="636.5" x2="725.3" y2="636.5" stroke="#1e1e1e" stroke-width="2.2"/>
<line x1="201.5" y1="636.5" x2="201.5" y2="639" stroke="#1e1e1e" stroke-width="1"/>
<line x1="332.3" y1="636.5" x2="332.3" y2="639" stroke="#1e1e1e" stroke-width="1"/>
<line x1="463" y1="636.5" x2="463" y2="639" stroke="#1e1e1e" stroke-width="1"/>
<line x1="594" y1="636.5" x2="594" y2="639" stroke="#1e1e1e" stroke-width="1"/>
<line x1="68.5" y1="527.5" x2="70.5" y2="527.5" stroke="#1e1e1e" stroke-width="1.5"/>
<line x1="68.7" y1="419.2" x2="70.5" y2="419.2" stroke="#1e1e1e" stroke-width="1.2"/>
<text x="28.92" y="419.1" font-size="22" textLength="38.99" lengthAdjust="spacingAndGlyphs">100</text>
<text x="42.31" y="639.2" font-size="23" textLength="12.68" lengthAdjust="spacingAndGlyphs">0</text>
<text x="38.04" y="663.6" font-size="24" textLength="75.22" lengthAdjust="spacingAndGlyphs">10000</text>
<text x="169.61" y="663.6" font-size="22.8" textLength="65.2" lengthAdjust="spacingAndGlyphs">15000</text>
<text x="300.51" y="663.6" font-size="22.8" textLength="65.92" lengthAdjust="spacingAndGlyphs">20000</text>
<text x="432.0" y="663.6" font-size="22.8" textLength="66.12" lengthAdjust="spacingAndGlyphs">25000</text>
<text x="563.39" y="663.6" font-size="22.8" textLength="66.55" lengthAdjust="spacingAndGlyphs">30000</text>
<text x="694.79" y="663.6" font-size="22.8" textLength="66.65" lengthAdjust="spacingAndGlyphs">35000</text>
<text x="342.69" y="694.4" font-size="21" textLength="84.85" lengthAdjust="spacingAndGlyphs">Mass (Da)</text>
<text x="22.7" y="628.66" font-size="25" textLength="201.29" lengthAdjust="spacingAndGlyphs" transform="rotate(-90 22.7 628.66)">Relative intensity (%)</text>
<text x="87.79" y="429.7" font-size="22.8" font-weight="bold" textLength="247.54" lengthAdjust="spacingAndGlyphs">b) Holo GLRX5:BOLA3</text>
<polygon points="71.00,635.80 71.00,635.80 74.50,635.80 74.75,635.75 75.00,635.70 75.25,635.64 76.00,635.64 76.25,635.65 76.50,635.70 76.75,635.59 77.00,635.46 77.25,635.44 78.00,635.44 78.25,635.55 78.50,635.68 78.75,635.80 80.25,635.80 80.50,635.77 80.75,635.71 81.00,635.65 81.25,635.63 82.00,635.63 82.25,635.68 82.50,635.71 82.75,635.68 83.00,635.67 83.75,635.67 84.00,635.70 84.25,635.75 84.50,635.79 84.75,635.78 85.00,635.77 86.00,635.77 86.25,635.78 86.50,635.77 86.75,635.72 87.00,635.66 87.25,635.65 87.75,635.65 88.00,635.56 88.25,635.50 89.00,635.50 89.25,635.54 89.50,635.65 89.75,635.57 90.00,635.43 90.25,635.41 91.00,635.41 91.25,635.43 91.75,635.43 92.00,635.44 92.25,635.57 92.50,635.70 92.75,635.79 93.00,635.78 94.00,635.78 94.25,635.67 94.50,635.54 94.75,635.43 95.50,635.43 95.75,635.45 96.00,635.58 96.25,635.72 96.50,635.76 96.75,635.78 97.00,635.80 99.25,635.80 99.50,635.79 99.75,635.78 100.00,635.76 102.00,635.76 102.25,635.77 102.50,635.78 102.75,635.79 103.00,635.80 103.50,635.80 103.75,635.74 104.00,635.66 104.25,635.58 104.50,635.58 104.75,635.57 105.00,635.55 105.75,635.55 106.00,635.63 106.25,635.71 106.50,635.80 106.75,635.76 107.00,635.63 107.25,635.50 107.50,635.44 108.25,635.44 108.50,635.50 108.75,635.63 109.00,635.76 109.25,635.77 109.50,635.64 109.75,635.52 110.00,635.45 110.75,635.45 111.00,633.65 111.25,622.90 111.50,612.15 111.75,610.00 113.00,610.00 113.25,618.60 113.50,629.35 113.75,635.57 114.00,635.50 114.75,635.50 115.00,635.55 115.25,635.65 115.50,635.76 115.75,635.80 117.00,635.80 117.25,635.71 117.50,635.59 117.75,635.47 118.00,635.46 118.25,635.46 118.50,630.19 118.75,602.15 119.00,574.11 119.25,568.50 120.50,568.50 120.75,590.93 121.00,618.98 121.25,635.78 121.50,635.79 122.00,635.79 122.25,635.76 122.50,635.69 122.75,635.62 123.00,635.61 123.75,635.61 124.00,635.66 124.25,635.73 124.50,635.76 124.75,635.73 125.50,635.73 125.75,635.74 126.00,635.74 126.25,635.64 126.50,635.55 126.75,635.53 127.50,635.53 127.75,635.61 128.00,635.70 128.25,635.80 128.50,635.80 128.75,635.79 129.00,635.76 129.25,635.72 129.50,635.70 130.25,635.70 130.50,635.63 130.75,635.59 131.25,635.59 131.50,635.55 132.25,635.55 132.50,635.58 132.75,635.67 133.00,635.76 133.25,635.80 133.50,635.79 134.25,635.79 134.50,635.78 134.75,635.75 135.00,635.72 135.75,635.72 136.00,635.61 136.25,635.47 136.50,635.42 137.25,635.42 137.50,635.50 137.75,635.62 138.00,635.59 138.75,635.59 139.00,635.63 139.25,635.71 139.50,635.73 139.75,635.73 140.00,635.75 140.25,635.78 140.50,635.69 140.75,635.55 141.00,635.41 142.00,635.41 142.25,635.54 142.50,635.68 142.75,635.70 143.00,635.70 143.25,635.73 143.50,635.77 144.50,635.77 144.75,635.78 145.00,635.78 145.25,635.76 145.50,635.75 146.50,635.75 146.75,635.70 147.00,635.63 147.25,635.61 148.00,635.61 148.25,635.66 148.50,635.73 148.75,635.76 149.00,635.75 149.75,635.75 150.00,635.73 150.25,635.71 151.25,635.71 151.50,635.74 151.75,635.78 152.00,635.77 152.25,635.77 152.50,635.72 152.75,635.67 153.75,635.67 154.00,635.70 154.25,635.75 154.50,635.79 154.75,635.78 155.00,635.78 155.25,635.77 155.75,635.77 156.00,635.70 156.25,635.61 156.50,635.53 157.25,635.53 157.50,635.55 157.75,635.65 158.00,635.75 158.50,635.75 158.75,635.50 159.00,634.75 159.25,634.00 160.00,634.00 160.25,633.53 161.00,633.53 161.25,633.73 161.50,634.54 161.75,634.01 162.00,633.06 162.75,633.06 163.00,633.00 164.25,633.00 164.50,633.23 164.75,634.40 165.00,635.57 165.25,635.49 165.50,635.25 165.75,635.12 166.25,635.12 166.50,634.96 166.75,631.03 167.00,625.08 167.25,621.50 168.50,621.50 168.75,623.88 169.00,629.84 169.25,632.00 170.75,632.00 171.00,633.58 171.25,634.63 171.50,634.31 171.75,634.24 172.50,634.24 172.75,634.74 173.00,634.85 173.25,633.27 173.50,632.00 174.75,632.00 175.00,632.32 175.25,633.90 175.50,634.39 175.75,634.87 176.00,635.13 176.25,635.23 176.50,635.47 176.75,635.71 177.00,635.72 177.25,635.69 178.00,635.69 178.25,635.70 179.00,635.70 179.25,635.72 179.50,635.75 179.75,635.77 180.00,635.75 180.25,635.70 180.50,635.68 181.25,635.68 181.50,635.71 181.75,635.75 182.00,635.79 183.50,635.79 183.75,635.76 184.00,635.68 184.25,635.61 184.50,635.59 185.25,635.59 185.50,635.65 185.75,635.72 186.00,635.50 186.25,635.27 186.50,635.16 187.25,635.16 187.50,635.28 187.75,635.34 188.50,635.34 188.75,635.43 189.00,635.59 189.25,635.76 189.50,635.79 190.00,635.79 190.25,635.73 190.50,635.50 190.75,635.27 191.00,635.16 191.75,635.16 192.00,635.28 192.25,635.51 192.50,635.71 193.25,635.71 193.50,635.73 193.75,635.76 194.00,635.79 195.75,635.79 196.00,635.76 196.25,635.73 196.50,635.70 197.25,635.70 197.50,635.71 197.75,635.74 198.00,635.76 198.25,635.74 198.75,635.74 199.00,635.65 199.25,635.42 199.50,635.19 199.75,635.15 200.50,635.15 200.75,635.35 201.00,635.58 201.25,635.75 201.50,635.75 201.75,635.73 202.00,635.69 202.25,635.68 203.00,635.68 203.25,635.72 203.50,635.75 203.75,635.69 204.00,635.63 205.00,635.63 205.25,635.69 205.50,635.75 205.75,635.79 206.75,635.79 207.00,635.77 207.25,635.75 207.50,635.74 208.25,635.74 208.50,635.75 208.75,635.77 209.00,635.79 209.25,635.80 209.75,635.80 210.00,635.63 210.25,635.41 210.50,635.19 211.50,635.19 211.75,635.40 212.00,635.62 212.25,635.76 212.50,635.78 212.75,635.79 213.00,635.79 213.25,635.77 213.50,635.75 213.75,635.74 214.25,635.74 214.50,635.73 214.75,635.63 215.00,635.52 215.25,635.51 216.00,635.51 216.25,635.60 216.50,635.70 216.75,635.79 217.00,635.79 217.25,635.76 217.50,635.69 217.75,635.50 218.00,634.75 218.25,634.00 219.75,634.00 220.00,634.75 220.25,635.50 220.50,635.54 220.75,635.41 221.50,635.41 221.75,635.43 222.00,635.56 222.25,580.17 222.50,510.63 222.75,468.90 224.00,468.90 224.25,496.72 224.50,566.26 224.75,635.34 225.00,635.38 225.50,635.38 225.75,635.51 226.00,635.60 226.25,635.48 226.50,627.35 226.75,613.27 227.00,602.00 228.25,602.00 228.50,604.82 228.75,618.90 229.00,632.98 229.25,635.29 229.75,635.29 230.00,635.32 230.75,635.32 231.00,635.38 231.25,635.55 231.50,635.72 231.75,635.64 232.00,635.52 232.25,635.46 233.00,635.46 233.25,635.53 233.50,635.61 233.75,635.45 234.00,635.37 234.75,635.37 235.00,635.45 235.25,635.60 235.50,635.64 235.75,635.66 236.00,635.72 236.50,635.72 236.75,635.68 237.00,635.51 237.25,635.35 237.50,635.34 238.25,635.34 238.50,635.49 238.75,635.64 239.00,635.48 239.25,635.33 240.00,635.33 240.25,635.35 240.50,635.52 240.75,635.69 241.00,635.80 242.00,635.80 242.25,635.62 242.50,635.37 242.75,635.12 243.00,635.10 243.75,635.10 244.00,635.30 244.25,635.30 244.50,635.42 244.75,635.60 245.00,635.60 245.25,635.37 245.50,635.17 246.25,635.17 246.50,635.19 246.75,635.41 247.00,635.64 247.25,635.62 247.50,635.54 248.00,635.54 248.25,635.53 249.25,635.53 249.50,635.62 249.75,635.70 250.25,635.70 250.50,635.72 250.75,635.69 251.00,635.61 251.25,635.57 252.00,635.57 252.25,635.61 252.50,635.70 252.75,635.78 253.00,635.79 253.25,635.79 253.50,635.75 253.75,635.66 254.00,635.57 254.25,635.55 255.00,635.55 255.25,635.62 255.50,635.71 255.75,635.70 256.50,635.70 256.75,635.73 257.00,635.76 257.25,635.80 257.50,635.79 257.75,635.79 258.00,635.78 258.50,635.78 258.75,635.65 259.00,635.44 259.25,635.23 259.50,635.22 260.25,635.22 260.50,635.42 260.75,635.62 261.00,635.75 261.25,635.75 261.50,635.74 261.75,635.60 262.00,635.46 262.25,635.41 263.00,635.41 263.25,635.49 263.50,635.63 263.75,635.76 264.00,635.76 264.25,635.77 264.50,635.78 264.75,635.79 265.00,635.78 266.25,635.78 266.50,635.79 266.75,635.80 267.00,635.79 268.00,635.79 268.25,635.78 268.50,635.58 268.75,635.39 269.00,635.26 269.75,635.26 270.00,635.32 270.25,635.36 270.75,635.36 271.00,635.49 271.25,635.65 271.50,635.80 272.75,635.80 273.00,635.78 273.25,635.67 273.50,635.55 273.75,635.48 274.50,635.48 274.75,635.52 275.00,635.35 275.25,635.14 276.00,635.14 276.25,635.17 276.50,635.40 276.75,635.64 277.00,635.79 277.50,635.79 277.75,635.78 278.00,635.76 279.00,635.76 279.25,635.77 279.50,635.67 279.75,635.05 280.00,634.44 280.25,634.07 281.00,634.07 281.25,634.33 281.50,634.94 281.75,635.56 282.00,635.44 282.25,635.33 283.00,635.33 283.25,633.90 283.50,632.32 283.75,632.00 285.00,632.00 285.25,633.27 285.50,634.85 285.75,635.46 286.00,635.60 286.25,635.70 286.50,635.70 286.75,635.33 287.00,634.17 287.25,633.00 288.75,633.00 289.00,634.17 289.25,635.23 289.50,635.25 290.25,635.25 290.50,635.35 290.75,635.34 291.50,635.34 291.75,629.30 292.00,621.17 292.25,616.30 293.50,616.30 293.75,619.55 294.00,627.68 294.25,635.43 294.50,635.45 294.75,635.58 295.00,635.63 295.25,635.59 296.00,635.59 296.25,635.63 296.50,634.86 296.75,630.15 297.00,625.44 297.25,624.50 298.50,624.50 298.75,628.27 299.00,632.97 299.25,632.00 300.75,632.00 301.00,633.58 301.25,634.68 301.75,634.68 302.00,634.96 302.25,635.36 302.50,635.43 302.75,635.47 303.00,635.61 303.25,635.74 303.50,635.80 304.00,635.80 304.25,635.77 304.50,635.73 304.75,635.69 305.75,635.69 306.00,635.73 306.50,635.73 306.75,635.64 307.00,635.50 307.25,635.42 308.00,635.42 308.25,635.48 308.50,635.62 308.75,635.75 309.00,635.76 309.25,635.76 309.50,635.70 309.75,635.60 310.00,635.51 310.75,635.51 311.00,635.52 311.25,635.63 311.50,635.73 311.75,635.80 312.50,635.80 312.75,635.78 313.00,635.74 313.25,635.70 313.50,635.68 314.25,635.68 314.50,635.71 314.75,635.70 315.00,635.46 315.25,635.21 315.50,635.11 316.25,635.11 316.50,635.26 316.75,635.50 317.00,635.75 317.25,635.79 317.50,635.80 318.25,635.80 318.50,635.76 318.75,635.70 319.00,635.64 319.25,635.63 320.00,635.63 320.25,635.69 320.50,635.75 320.75,635.79 321.00,635.80 321.25,635.80 321.50,635.78 321.75,635.76 322.00,635.73 322.50,635.73 322.75,635.52 323.00,635.29 323.25,635.14 324.00,635.14 324.25,635.23 324.50,635.46 324.75,635.70 325.00,635.69 326.00,635.69 326.25,635.72 326.50,635.73 326.75,635.74 327.00,635.76 327.25,635.60 327.50,635.39 327.75,635.21 328.50,635.21 328.75,635.24 329.00,635.45 329.25,635.66 329.50,635.77 330.00,635.77 330.25,635.78 330.50,635.77 330.75,635.71 331.00,635.65 331.25,635.63 332.00,635.63 332.25,635.67 332.50,635.57 332.75,635.53 333.50,635.53 333.75,635.58 334.00,635.68 334.25,635.73 335.25,635.73 335.50,635.76 336.50,635.76 336.75,635.77 337.00,635.78 337.25,635.79 337.50,635.80 337.75,635.79 338.25,635.79 338.50,635.77 338.75,635.74 339.00,635.73 339.75,635.73 340.00,635.74 340.25,635.76 340.75,635.76 341.00,635.74 341.25,635.65 341.50,635.57 342.00,635.57 342.25,635.52 342.50,635.46 343.25,635.46 343.50,635.52 343.75,635.64 344.00,635.74 344.25,635.70 344.50,635.51 344.75,635.32 345.00,635.27 345.75,635.27 346.00,635.41 346.25,635.60 346.50,635.73 346.75,635.40 347.00,635.07 347.25,634.20 347.50,632.20 347.75,631.00 349.00,631.00 349.25,631.80 349.50,633.80 349.75,634.52 350.00,633.81 350.25,633.80 351.00,633.80 351.25,634.50 351.50,635.22 351.75,634.79 352.00,634.22 352.25,634.21 352.50,633.15 352.75,628.73 353.00,625.20 354.25,625.20 354.50,626.08 354.75,630.50 355.00,634.92 355.25,634.43 355.75,634.43 356.00,634.17 356.25,633.00 357.75,633.00 358.00,634.17 358.25,635.33 358.50,635.80 358.75,635.52 359.00,634.73 359.25,633.93 359.50,633.58 360.25,633.58 360.50,634.02 360.75,634.81 361.00,634.17 361.25,633.00 362.75,633.00 363.00,634.17 363.25,635.06 363.50,634.33 363.75,633.75 364.50,633.75 364.75,633.90 365.00,634.63 365.25,634.97 365.50,635.27 365.75,634.83 366.00,632.42 366.25,630.00 367.75,630.00 368.00,632.42 368.25,634.83 368.50,635.76 369.00,635.76 369.25,635.77 369.50,635.54 369.75,635.32 370.00,635.16 370.75,635.16 371.00,635.24 371.25,635.46 371.50,634.95 371.75,634.32 372.00,632.95 372.25,632.00 373.50,632.00 373.75,632.63 374.00,632.98 374.25,633.76 374.50,633.54 374.75,632.93 375.50,632.93 375.75,633.35 376.00,631.25 376.25,628.00 377.75,628.00 378.00,631.25 378.25,634.50 378.50,635.53 378.75,635.00 379.00,633.00 379.25,631.00 380.75,631.00 381.00,633.00 381.25,635.00 381.50,635.62 381.75,635.62 382.00,635.49 382.25,634.46 382.50,633.42 382.75,632.90 383.50,632.90 383.75,633.42 384.00,634.45 384.25,634.65 384.75,634.65 385.00,634.52 385.25,633.78 385.50,633.72 385.75,633.72 386.00,633.70 386.25,633.00 387.50,633.00 387.75,633.37 388.50,633.37 388.75,633.43 389.00,634.30 389.25,635.16 389.50,635.72 389.75,635.60 390.00,635.49 390.25,635.48 391.00,635.48 391.25,635.59 391.50,635.35 391.75,634.60 392.00,634.00 393.25,634.00 393.50,634.15 393.75,634.90 394.00,635.65 394.25,635.74 394.50,635.70 395.50,635.70 395.75,635.73 396.00,635.66 396.25,635.60 397.00,635.60 397.25,635.51 397.50,635.20 397.75,634.93 398.50,634.93 398.75,634.98 399.00,635.29 399.25,635.52 399.50,635.37 400.50,635.37 400.75,635.23 401.50,635.23 401.75,635.25 402.00,635.45 402.25,635.52 402.50,635.38 403.25,635.38 403.50,635.40 403.75,635.55 404.00,635.70 404.25,635.79 404.50,635.80 404.75,635.76 405.00,635.65 405.25,635.54 405.50,635.50 406.25,635.50 406.50,635.56 406.75,635.67 407.00,635.74 407.25,635.61 407.50,635.44 407.75,635.34 408.50,635.34 408.75,635.40 409.00,635.57 409.25,635.73 409.50,635.80 409.75,635.71 410.00,635.56 410.25,635.42 410.50,635.40 411.25,635.40 411.50,635.52 411.75,635.57 412.00,635.42 412.25,635.37 413.00,635.37 413.25,635.46 414.00,635.46 414.25,635.50 414.50,635.31 414.75,600.00 415.00,510.50 415.25,421.00 416.75,421.00 417.00,510.50 417.25,600.00 417.50,635.53 417.75,635.53 418.00,635.59 418.25,635.66 418.50,635.66 418.75,635.68 419.00,635.73 419.25,635.78 419.50,630.35 419.75,621.27 420.00,614.00 421.25,614.00 421.50,615.82 421.75,624.90 422.00,633.98 422.25,635.74 422.50,635.77 422.75,635.68 423.00,635.58 423.25,635.52 423.50,635.52 423.75,635.35 424.00,635.10 424.25,635.09 425.00,635.09 425.25,635.34 425.50,635.59 425.75,635.74 426.75,635.74 427.00,635.76 427.25,635.78 427.50,635.78 427.75,635.77 428.50,635.77 428.75,635.76 429.00,635.75 429.75,635.75 430.00,635.77 430.25,635.78 430.50,635.80 430.75,635.59 431.00,635.36 431.25,635.18 432.00,635.18 432.25,635.22 432.50,635.44 432.75,635.64 433.25,635.64 433.50,635.47 433.75,635.21 434.00,635.06 434.75,635.06 435.00,635.18 435.25,635.44 435.50,635.63 435.75,635.51 436.00,635.47 436.75,635.47 437.00,635.55 437.25,635.67 437.50,635.61 437.75,635.50 438.00,635.47 438.75,635.47 439.00,635.57 439.25,635.57 439.50,635.48 440.25,635.48 440.50,635.36 440.75,635.32 441.50,635.32 441.75,635.45 442.00,635.62 442.25,635.79 442.50,635.57 442.75,635.34 443.00,635.17 443.75,635.17 444.00,635.15 444.75,635.15 445.00,635.20 445.25,635.43 445.50,635.66 445.75,635.76 446.00,635.75 446.50,635.75 446.75,635.72 447.00,635.65 447.25,635.60 448.00,635.60 448.25,635.62 448.50,635.69 448.75,635.77 449.00,635.71 449.25,635.59 449.50,635.47 449.75,635.46 450.50,635.46 450.75,635.57 451.00,635.69 451.25,635.80 451.50,635.65 451.75,635.48 452.00,635.31 452.75,635.31 453.00,635.32 453.25,635.49 453.50,635.60 453.75,635.44 454.00,635.34 454.75,635.34 455.00,635.41 455.25,634.99 455.50,634.63 456.25,634.63 456.50,634.69 456.75,635.10 457.00,635.52 457.25,635.39 457.50,635.38 457.75,634.60 458.00,631.60 458.25,628.60 459.75,628.60 460.00,631.60 460.25,634.60 460.50,633.00 460.75,631.00 462.25,631.00 462.50,633.00 462.75,635.00 463.00,633.58 463.25,632.00 464.75,632.00 465.00,633.58 465.25,635.17 465.50,635.78 465.75,635.17 466.00,633.58 466.25,632.00 467.75,632.00 468.00,633.58 468.25,635.17 468.50,635.47 468.75,635.33 469.00,634.17 469.25,633.00 470.75,633.00 471.00,634.17 471.25,635.33 471.50,635.48 471.75,634.96 472.00,634.44 472.25,634.34 473.00,634.34 473.25,634.77 473.50,635.29 473.75,635.54 474.00,635.54 474.25,635.55 474.50,635.40 474.75,635.37 475.50,635.37 475.75,635.49 476.00,635.65 476.25,635.75 476.50,635.72 476.75,635.71 477.00,635.70 477.25,635.68 478.00,635.68 478.25,635.71 478.50,635.39 478.75,634.83 479.00,634.28 479.25,634.25 480.00,634.25 480.25,634.40 480.75,634.40 481.00,634.50 481.25,634.75 482.00,634.75 482.25,634.79 482.50,635.17 482.75,633.90 483.00,632.32 483.25,632.00 484.50,632.00 484.75,633.27 485.00,634.85 485.25,635.46 485.50,635.46 485.75,635.53 486.00,635.65 486.25,635.77 486.50,635.80 487.50,635.80 487.75,635.69 488.00,635.57 488.25,635.49 489.00,635.49 489.25,635.51 489.50,635.62 489.75,635.68 490.00,635.68 490.25,635.56 490.50,635.42 490.75,635.39 491.25,635.39 491.50,628.34 491.75,620.88 492.00,617.90 493.25,617.90 493.50,622.37 493.75,629.83 494.00,634.73 494.25,634.50 495.00,634.50 495.25,634.73 495.50,635.19 495.75,635.66 496.00,635.80 497.00,635.80 497.25,634.20 497.50,632.20 497.75,631.00 499.00,631.00 499.25,631.80 499.50,633.80 499.75,633.00 501.25,633.00 501.50,634.17 501.75,634.88 502.00,633.58 502.25,632.00 503.75,632.00 504.00,633.58 504.25,634.22 505.00,634.22 505.25,634.68 505.50,635.24 505.75,635.68 506.00,635.68 506.25,635.51 506.50,635.25 506.75,635.09 507.50,635.09 507.75,635.18 508.00,635.43 508.25,635.46 508.75,635.46 509.00,635.57 509.25,635.69 509.50,635.38 509.75,634.92 510.00,634.51 510.75,634.51 511.00,634.56 511.25,635.02 511.50,635.48 511.75,635.74 512.00,635.54 512.25,635.33 512.50,635.23 513.25,635.23 513.50,635.32 513.75,635.53 514.00,635.26 514.25,634.78 514.50,634.45 515.25,634.45 515.50,634.60 515.75,635.08 516.00,635.09 516.25,634.89 517.00,634.89 517.25,635.02 517.50,635.34 517.75,635.67 518.00,635.77 518.25,635.76 518.75,635.76 519.00,635.71 519.25,635.43 519.50,635.15 519.75,635.01 520.50,635.01 520.75,634.60 521.00,634.00 522.25,634.00 522.50,634.15 522.75,634.90 523.00,635.43 523.50,635.43 523.75,635.52 524.00,635.65 524.25,635.75 524.50,635.71 525.25,635.71 525.50,635.64 525.75,635.47 526.00,635.32 526.75,635.32 527.00,635.34 527.25,635.43 527.50,635.26 527.75,634.92 528.00,634.85 528.75,634.85 529.00,635.12 529.25,635.46 529.50,635.36 529.75,635.20 530.50,635.20 530.75,635.26 531.00,635.41 531.25,635.55 531.50,635.61 532.25,635.61 532.50,635.65 532.75,635.72 533.00,635.61 533.25,635.49 533.50,635.48 534.25,635.48 534.50,635.58 534.75,635.55 535.00,635.41 535.25,635.39 536.00,635.39 536.25,635.52 536.50,635.66 536.75,634.72 537.00,633.78 537.25,633.16 538.00,633.16 538.25,613.75 538.50,558.62 538.75,503.50 540.25,503.50 540.50,558.62 540.75,613.75 541.00,620.00 542.25,620.00 542.50,621.32 542.75,627.90 543.00,634.48 543.25,623.67 543.50,608.50 543.75,599.40 545.00,599.40 545.25,605.47 545.50,620.63 545.75,635.17 546.00,633.58 546.25,632.00 547.75,632.00 548.00,633.58 548.25,634.84 548.50,635.08 548.75,635.33 549.00,634.17 549.25,633.00 550.75,633.00 551.00,634.17 551.25,635.33 551.50,635.72 551.75,635.64 552.00,635.57 552.75,635.57 553.00,635.58 553.25,635.67 553.50,635.67 553.75,635.59 554.75,635.59 555.00,635.46 555.25,635.35 556.00,635.35 556.25,635.40 556.50,635.56 556.75,635.59 557.00,634.78 557.25,633.92 557.50,633.38 558.25,633.38 558.50,633.71 558.75,634.57 559.00,634.17 559.25,633.00 560.75,633.00 561.00,634.17 561.25,635.33 561.50,635.80 561.75,635.59 562.00,635.38 562.25,635.21 562.50,634.97 563.25,634.97 563.50,634.99 563.75,635.29 564.00,635.58 564.25,635.48 564.50,635.16 564.75,634.90 565.00,634.90 565.25,634.16 565.50,633.64 566.25,633.64 566.50,633.89 566.75,634.67 567.00,634.17 567.25,633.00 568.75,633.00 569.00,634.17 569.25,634.82 569.50,634.55 570.25,634.55 570.50,634.73 570.75,634.93 571.00,634.32 571.25,634.09 572.00,634.09 572.25,634.47 572.50,635.08 572.75,635.69 573.00,635.65 573.25,635.64 573.50,635.64 573.75,634.58 574.00,631.54 574.25,628.50 575.75,628.50 576.00,631.54 576.25,634.58 576.50,635.28 576.75,635.28 577.00,635.44 577.25,635.62 577.50,635.70 577.75,635.64 578.00,635.63 578.75,635.63 579.00,635.68 579.25,635.68 579.50,635.52 579.75,635.37 580.75,635.37 581.00,635.52 581.25,635.67 581.50,635.73 582.00,635.73 582.25,635.43 582.50,635.02 582.75,634.67 583.50,634.67 583.75,634.49 584.00,633.58 584.25,632.00 585.75,632.00 586.00,633.58 586.25,635.17 586.50,635.21 586.75,635.30 587.00,635.51 587.25,635.51 587.50,635.25 587.75,635.06 588.50,635.06 588.75,635.14 589.00,634.89 589.25,634.37 589.50,634.32 590.25,634.32 590.50,634.81 590.75,635.34 591.00,634.85 591.25,634.17 591.50,633.90 592.25,633.90 592.50,634.31 592.75,634.99 593.00,635.66 593.25,635.41 593.50,635.06 593.75,634.82 594.00,634.72 594.25,634.38 595.00,634.38 595.25,634.55 595.50,635.05 595.75,634.88 596.00,634.84 596.75,634.84 597.00,635.14 597.25,635.49 597.50,635.79 597.75,635.79 598.00,635.70 598.25,635.35 598.50,635.00 598.75,634.83 599.00,634.17 599.25,633.00 600.75,633.00 601.00,634.17 601.25,635.23 601.50,634.58 601.75,633.98 602.50,633.98 602.75,634.04 603.00,634.68 603.25,635.33 603.50,635.77 603.75,635.74 604.00,635.72 604.50,635.72 604.75,635.29 605.00,634.60 605.25,633.92 605.50,633.87 606.25,633.87 606.50,634.52 606.75,635.20 607.00,635.23 607.25,635.03 608.00,635.03 608.25,635.11 608.50,635.38 608.75,635.33 609.00,634.17 609.25,633.00 610.75,633.00 611.00,634.17 611.25,635.33 611.50,635.62 611.75,635.79 612.00,635.78 612.25,635.77 612.50,635.77 612.75,635.43 613.00,634.60 613.25,633.76 613.50,633.46 614.25,633.46 614.50,634.00 614.75,634.83 615.00,635.62 616.00,635.62 616.25,635.47 616.50,633.60 616.75,629.93 617.00,627.00 618.25,627.00 618.50,627.73 618.75,631.40 619.00,633.00 619.25,631.00 620.75,631.00 621.00,633.00 621.25,635.00 621.50,635.13 622.00,635.13 622.25,635.00 622.50,634.25 622.75,633.68 623.50,633.68 623.75,633.88 624.00,634.46 624.25,633.78 624.50,632.42 624.75,630.00 626.25,630.00 626.50,632.42 626.75,634.83 627.00,635.40 627.25,635.27 628.00,635.27 628.25,635.32 628.50,635.51 628.75,635.17 629.00,633.58 629.25,632.00 630.75,632.00 631.00,633.58 631.25,635.17 631.50,635.76 631.75,635.77 632.00,635.76 632.75,635.76 633.00,635.61 633.25,635.44 633.50,635.32 634.25,635.32 634.50,635.37 634.75,635.54 635.00,635.71 635.25,635.75 635.50,635.59 635.75,635.31 636.00,635.02 636.25,634.99 637.00,634.99 637.25,635.26 637.50,635.54 637.75,635.79 638.00,635.57 638.25,635.07 638.50,634.35 638.75,631.93 639.00,630.00 640.25,630.00 640.50,630.48 640.75,632.90 641.00,634.82 641.25,634.82 641.50,635.06 641.75,634.48 642.00,633.77 642.75,633.77 643.00,633.78 643.25,633.95 644.00,633.95 644.25,634.14 644.50,634.80 644.75,635.46 645.00,635.65 645.25,635.50 645.50,633.85 645.75,630.60 646.00,628.00 647.25,628.00 647.50,628.65 647.75,631.90 648.00,635.15 648.25,635.80 648.50,635.80 648.75,635.42 649.00,634.80 649.25,634.17 649.50,634.05 650.25,634.05 650.50,634.56 650.75,634.12 651.00,633.58 651.25,632.00 652.75,632.00 653.00,633.58 653.25,635.15 653.50,635.42 653.75,635.09 654.00,634.89 654.75,634.89 655.00,635.02 655.25,635.21 655.50,635.41 655.75,635.62 656.00,635.80 656.25,635.69 656.50,635.18 656.75,634.67 657.00,634.37 657.75,634.37 658.00,634.58 658.25,635.09 658.50,635.11 658.75,635.28 659.00,634.17 659.25,633.00 660.75,633.00 661.00,634.17 661.25,635.33 661.50,635.66 661.75,635.66 662.00,635.63 662.25,635.51 662.50,635.44 663.25,635.44 663.50,635.51 663.75,635.62 664.00,635.63 664.25,635.69 664.50,635.76 664.75,635.69 665.00,635.40 665.25,635.11 665.50,634.99 666.25,634.99 666.50,635.16 666.75,635.35 667.25,635.35 667.50,635.40 667.75,635.56 668.00,635.68 668.25,635.56 668.50,635.47 668.75,635.17 669.00,633.58 669.25,632.00 670.75,632.00 671.00,633.58 671.25,635.17 671.50,635.47 671.75,635.63 672.00,635.64 672.50,635.64 672.75,635.69 673.00,635.75 673.25,635.80 673.50,635.79 673.75,635.78 674.00,635.77 674.75,635.77 675.00,635.35 675.25,634.80 675.50,634.25 676.25,634.25 676.50,634.26 676.75,634.81 677.00,635.36 677.25,635.80 678.25,635.80 678.50,635.73 678.75,635.33 679.00,634.17 679.25,633.00 680.75,633.00 681.00,634.17 681.25,634.57 681.75,634.57 682.00,634.96 682.25,635.40 682.50,635.80 682.75,635.80 683.00,635.79 683.25,635.75 683.50,635.72 683.75,635.70 684.50,635.70 684.75,635.72 685.00,635.76 685.25,635.78 685.50,635.76 685.75,635.72 686.00,635.68 686.75,635.68 687.00,635.69 687.25,635.73 687.50,635.77 687.75,635.70 688.00,635.62 688.25,635.58 688.50,635.58 688.75,635.17 689.00,633.58 689.25,632.00 690.75,632.00 691.00,633.58 691.25,634.66 691.75,634.66 692.00,634.84 692.25,635.25 692.50,635.31 693.25,635.31 693.50,635.32 693.75,635.39 694.00,635.30 694.75,635.30 695.00,635.24 695.25,634.60 695.50,634.02 696.25,634.02 696.50,634.08 696.75,634.72 697.00,634.17 697.25,633.00 698.75,633.00 699.00,633.58 699.25,632.00 700.75,632.00 701.00,633.58 701.25,633.93 701.50,633.93 701.75,634.00 702.00,634.67 702.25,635.34 702.50,635.71 702.75,635.71 703.00,635.44 703.25,635.04 703.50,634.68 704.25,634.68 704.50,634.73 704.75,635.12 705.50,635.12 705.75,635.13 706.00,635.38 706.25,635.62 706.50,635.78 706.75,635.76 707.00,635.75 707.25,633.20 707.50,629.95 707.75,628.00 709.00,628.00 709.25,629.30 709.50,632.55 709.75,635.00 710.00,633.00 710.25,631.00 711.75,631.00 712.00,633.00 712.25,634.68 712.50,635.28 712.75,635.79 713.00,635.78 713.50,635.78 713.75,635.17 714.00,633.58 714.25,632.00 715.75,632.00 716.00,633.58 716.25,635.17 716.50,635.25 716.75,635.25 717.00,635.05 717.25,634.32 717.50,633.77 718.25,633.77 718.50,633.95 718.75,634.67 719.00,635.40 719.25,635.73 719.50,635.42 719.75,634.84 720.00,634.26 720.25,634.18 721.00,634.18 721.25,634.20 722.00,634.20 722.25,634.37 722.50,634.94 722.75,635.52 723.00,635.73 723.25,635.69 723.50,635.68 724.25,635.68 724.50,635.72 724.75,635.76 725.00,635.78 725.25,635.78 725.30,635.80" fill="#080808"/>
<circle cx="107.7" cy="594.3" r="11.40" fill="none" stroke="#00a651" stroke-width="3.6"/>
<rect x="111.40" y="545.10" width="17.80" height="17.80" fill="none" stroke="#00a651" stroke-width="3.8"/>
<circle cx="223.7" cy="451.8" r="11.50" fill="none" stroke="#ec1c24" stroke-width="3.8"/>
<path d="M218.93 582.70L230.70 570.93L242.47 582.70L230.70 594.47Z" fill="#fff" stroke="#ec1c24" stroke-width="4.0" stroke-linejoin="miter"/>
<circle cx="415.4" cy="390.2" r="9.00" fill="none" stroke="#00a651" stroke-width="2.6"/>
<circle cx="415.4" cy="410.4" r="9.00" fill="none" stroke="#00a651" stroke-width="2.6"/>
<circle cx="539.4" cy="468.1" r="8.90" fill="#fff200" stroke="#ec1c24" stroke-width="3.2"/>
<circle cx="539.4" cy="488.5" r="8.70" fill="#fff200" stroke="#00a651" stroke-width="3.2"/>
<rect x="555.6" y="396" width="212.4" height="220.8" fill="#fff" stroke="#5a5a5a" stroke-width="1.6"/>
<line x1="583.2" y1="425.6" x2="583.2" y2="578" stroke="#4a4a4a" stroke-width="1.3"/>
<line x1="582.6" y1="577.5" x2="736.3" y2="577.5" stroke="#4a4a4a" stroke-width="1.3"/>
<polyline points="583.5,577.3 590,577.2 600,577.0 610,577.4 616,576.8 619.5,576.2 622,577.2 624.5,577.3 625.4,575 627,530 629,462 630.1,427.2 631.2,462 633.5,532 635.5,566 637,576.5 638.5,577.4 639.5,577.2 641,570 642.2,563 643,561.5 643.8,563 645,570 646.5,576.5 648,577.3 650,577.4 651.5,577 653,570 654.4,564 655.2,562.7 656,564 657.4,570 659,575.5 661,576.3 665,576.0 670,576.4 675,577.2 680,577.4 686,577 688.2,575.5 690.5,577.2 693.5,577.4 694.4,577 695.5,568 697,548 698.5,535.7 700,548 701.8,568 703.3,577 706,577.4 709,577 711.4,574.3 713.8,577 717,577.4 719.5,577 722,575 724.5,577 730,577.4 736,577.5" fill="none" stroke="#3c3c3c" stroke-width="1.3" stroke-linejoin="round"/>
<text x="556.35" y="428" font-size="13" textLength="22.99" lengthAdjust="spacingAndGlyphs" fill="#222" stroke="#222" stroke-width="0.6">100</text>
<text x="560.36" y="505" font-size="12.5" textLength="10.87" lengthAdjust="spacingAndGlyphs" fill="#222" stroke="#222" stroke-width="0.6">%</text>
<text x="562.36" y="580.8" font-size="12.5" textLength="6.28" lengthAdjust="spacingAndGlyphs" fill="#222" stroke="#222" stroke-width="0.6">0</text>
<text x="575.11" y="592.6" font-size="13" textLength="38.13" lengthAdjust="spacingAndGlyphs" fill="#222" stroke="#222" stroke-width="0.6">27800</text>
<text x="651.83" y="592.6" font-size="13" textLength="37.2" lengthAdjust="spacingAndGlyphs" fill="#222" stroke="#222" stroke-width="0.6">28000</text>
<text x="727.62" y="592.6" font-size="13" textLength="37.82" lengthAdjust="spacingAndGlyphs" fill="#222" stroke="#222" stroke-width="0.6">28200</text>
<text x="643.94" y="604.5" font-size="12.5" textLength="48.41" lengthAdjust="spacingAndGlyphs" fill="#222" stroke="#222" stroke-width="0.6">Mass (Da)</text>
<text x="686.35" y="424.9" font-size="12.5" textLength="66.61" lengthAdjust="spacingAndGlyphs" fill="#222" stroke="#222" stroke-width="0.6">Dimer region</text>
<text x="635.32" y="446" font-size="12.5" textLength="101.31" lengthAdjust="spacingAndGlyphs" fill="#222" stroke="#222" stroke-width="0.6">Holo GLRX5:Bola3</text>
<text x="625" y="497.79" font-size="12.5" textLength="53.99" lengthAdjust="spacingAndGlyphs" transform="rotate(-90 625 497.79)" fill="#222" stroke="#222" stroke-width="0.6">27,924 Da</text>
<text x="684.88" y="530" font-size="13" textLength="28.78" lengthAdjust="spacingAndGlyphs" fill="#222" stroke="#222" stroke-width="0.6">+178</text>
<circle cx="629.8" cy="406.4" r="6.00" fill="#fff200" stroke="#ec1c24" stroke-width="2.6"/>
<circle cx="629.8" cy="420.0" r="5.90" fill="#fff200" stroke="#00a651" stroke-width="2.6"/>
</svg></body></html>
